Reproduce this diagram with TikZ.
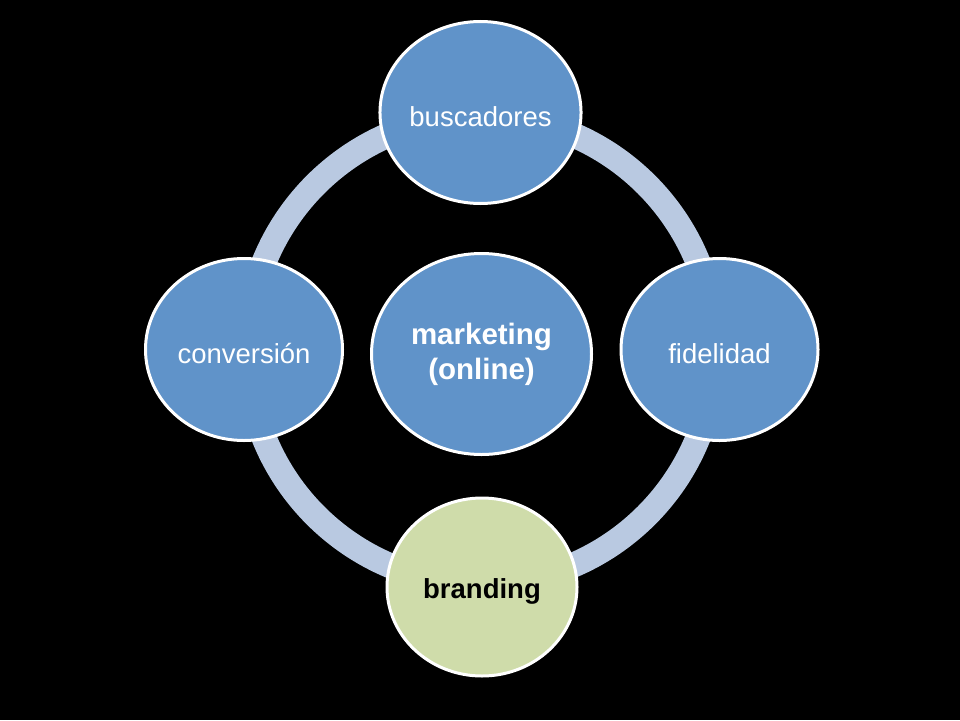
\documentclass[tikz,border=0pt]{standalone}
\usepackage{fontspec}
\setmainfont{Liberation Sans}
\usetikzlibrary{shapes.geometric}
\definecolor{bubblecol}{RGB}{96,147,201}
\definecolor{ringcol}{RGB}{185,201,225}
\definecolor{greencol}{RGB}{207,220,170}

\begin{document}
\begin{tikzpicture}[x=1pt,y=-1pt,
  bubble/.style={ellipse, draw=white, line width=3pt, fill=bubblecol, text=white, inner sep=0pt,
    minimum width=197pt, minimum height=182pt, font=\fontsize{27.5}{33}\selectfont}]
%background
\fill[black] (0,0) rectangle (960,720);

%ring
\draw[ringcol, line width=25pt] (481,350) circle (234pt);

%center
\node[bubble, minimum width=220pt, minimum height=201pt, align=center,
  font=\fontsize{29.5}{35}\selectfont\bfseries] (marketing) at (481.5,354) {marketing\\(online)};

%outer bubbles
\node[bubble, text height=29pt] (buscadores) at (480.5,112.5) {buscadores};
\node[bubble, text height=29pt] (conversion) at (244,349.5) {conversión};
\node[bubble, text height=29pt] (fidelidad) at (719.5,349.5) {fidelidad};
\node[bubble, text height=29pt, fill=greencol, text=black, minimum width=190pt, minimum height=178pt,
  font=\fontsize{27.5}{33}\selectfont\bfseries] (branding) at (482,587) {branding};

\end{tikzpicture}
\end{document}
